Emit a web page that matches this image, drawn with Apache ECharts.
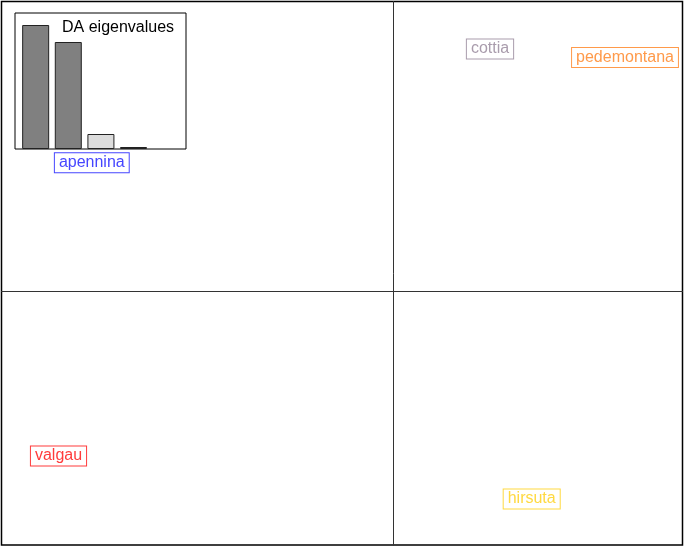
<!DOCTYPE html>
<html>
<head>
<meta charset="utf-8">
<script src="https://cdn.jsdelivr.net/npm/echarts@6/dist/echarts.min.js"></script>
<style>
html,body{margin:0;padding:0;background:#fff;}
#chart{width:684px;height:547px;}
</style>
</head>
<body>
<div id="chart"></div>
<script>
// Group centroids on the first two discriminant functions
const groups = ['apennina', 'cottia', 'pedemontana', 'valgau', 'hirsuta'];
const ld1 = [-3.017, 0.965, 2.315, -3.35, 1.382];
const ld2 = [1.28, 2.415, 2.33, -1.65, -2.08];
const groupColors = ['#4646ff', '#a99cac', '#ff9a4a', '#ff3b3b', '#ffd940'];

// DA eigenvalues (inset)
const eigPos = [0.7, 1.9, 3.1, 4.3];
const eigenvalues = [620, 535, 75, 10];
const eigColors = ['#808080', '#808080', '#dcdcdc', '#dcdcdc'];

const chart = echarts.init(document.getElementById('chart'));

const scatterData = groups.map((g, i) => ({
  name: g,
  value: [ld1[i], ld2[i]],
  label: {
    color: groupColors[i],
    borderColor: groupColors[i]
  }
}));

const barData = eigenvalues.map((v, i) => ({
  value: [eigPos[i], v],
  itemStyle: { color: eigColors[i] }
}));

chart.setOption({
  animation: false,
  backgroundColor: '#fff',
  title: {
    text: 'DA eigenvalues',
    left: 57,
    top: 15,
    textStyle: { fontFamily: 'Liberation Sans', fontSize: 16, fontWeight: 'normal', color: '#000' }
  },
  grid: [
    { left: 1.5, top: 1.5, right: 1.5, bottom: 2, show: true, borderColor: '#000', borderWidth: 1.5, backgroundColor: 'transparent' },
    { left: 15, top: 13, width: 171, height: 136, show: true, borderColor: '#000', borderWidth: 1, backgroundColor: '#fff', z: 5 }
  ],
  xAxis: [
    { gridIndex: 0, type: 'value', min: -3.92, max: 2.89,
      axisLine: { show: true, onZero: true, lineStyle: { color: '#333', width: 1 } },
      axisTick: { show: false }, axisLabel: { show: false }, splitLine: { show: false } },
    { gridIndex: 1, type: 'value', min: -0.06, max: 6.23, show: false, splitLine: { show: false } }
  ],
  yAxis: [
    { gridIndex: 0, type: 'value', min: -2.54, max: 2.89,
      axisLine: { show: true, onZero: true, lineStyle: { color: '#333', width: 1 } },
      axisTick: { show: false }, axisLabel: { show: false }, splitLine: { show: false } },
    { gridIndex: 1, type: 'value', min: 0, max: 680, show: false, splitLine: { show: false } }
  ],
  series: [
    {
      type: 'scatter',
      xAxisIndex: 0, yAxisIndex: 0,
      symbolSize: 1,
      itemStyle: { color: 'rgba(0,0,0,0)', opacity: 1 },
      data: scatterData,
      label: {
        show: true,
        position: 'inside',
        formatter: p => p.name,
        fontFamily: 'Liberation Sans',
        fontSize: 16,
        borderWidth: 1,
        padding: [2, 4, 1, 4],
        backgroundColor: '#fff',
        opacity: 1
      },
      z: 3
    },
    {
      type: 'bar',
      xAxisIndex: 1, yAxisIndex: 1,
      barWidth: 27,
      data: barData,
      itemStyle: { borderColor: '#222', borderWidth: 1 },
      z: 6
    }
  ]
});
</script>
</body>
</html>
